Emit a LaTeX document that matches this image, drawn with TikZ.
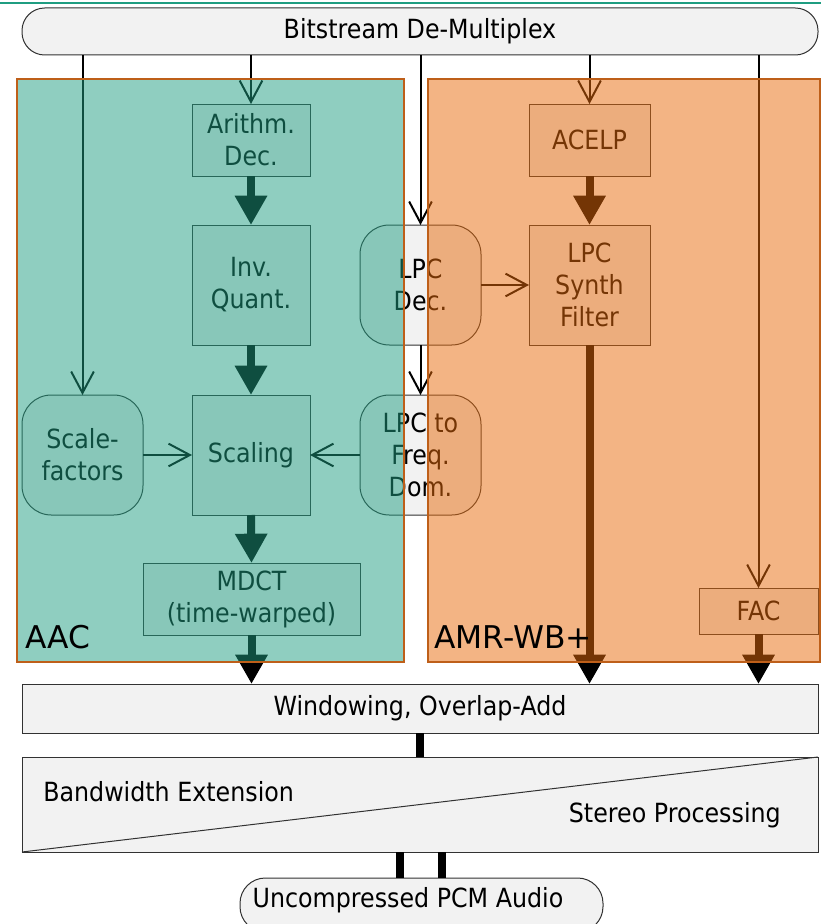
\documentclass[tikz,border=0pt]{standalone}
\usepackage{fontspec}
\setmainfont{DejaVu Sans}[FakeStretch=0.9]
\newfontfamily\regfont{DejaVu Sans}
\usetikzlibrary{arrows.meta,calc}
\definecolor{aacc}{RGB}{31,157,129}
\definecolor{amrc}{RGB}{232,106,10}
\definecolor{framec}{RGB}{190,95,25}
\definecolor{nodefill}{RGB}{242,242,242}
\definecolor{nodeline}{RGB}{50,50,50}
\tikzset{
  blk/.style={draw=nodeline, line width=0.75pt, fill=nodefill, inner sep=0pt, outer sep=0pt,
    align=center, font=\fontsize{19.8}{24}\selectfont},
  rblk/.style={blk, rounded corners=22pt},
  thinarrow/.style={line width=1.5pt, -{Straight Barb[length=16pt,width=17pt]}},
  thickarrow/.style={line width=6pt, -{Triangle[length=22pt,width=23pt]}},
  thickline/.style={line width=6pt},
  txt/.style={inner sep=0pt, font=\fontsize{19.8}{24}\selectfont},
  biglbl/.style={inner sep=0pt, anchor=base west, font=\regfont\fontsize{23.5}{28}\selectfont},
  overlay/.style={opacity=0.5},
  frame/.style={draw=framec, line width=1.2pt}
}
\begin{document}
\begin{tikzpicture}[x=0.75pt,y=-0.75pt]
\useasboundingbox (0,0) rectangle (821,924);
\draw[aacc, line width=1.5pt] (0,3) -- (821,3);

% nodes
\node[rblk, minimum width=597pt, minimum height=35.25pt, rounded corners=17pt] (demux) at (420,31.5) {Bitstream De-Multiplex};
\node[blk, minimum width=88.5pt, minimum height=54pt] (arith) at (251,140) {Arithm.\\Dec.};
\node[blk, minimum width=88.5pt, minimum height=90pt] (invq) at (251,285) {Inv.\\Quant.};
\node[blk, minimum width=88.5pt, minimum height=90pt] (scal) at (251,455) {Scaling};
\node[blk, minimum width=162.75pt, minimum height=54pt] (mdct) at (251.5,599) {MDCT\\(time-warped)};
\node[rblk, minimum width=90.75pt, minimum height=90pt] (sf) at (82.5,455) {Scale-\\factors};
\node[rblk, minimum width=90.75pt, minimum height=90pt] (lpcd) at (420.5,285) {LPC\\Dec.};
\node[rblk, minimum width=90.75pt, minimum height=90pt] (lpcf) at (420.5,455) {LPC to\\Freq.\\Dom.};
\node[blk, minimum width=90.75pt, minimum height=54pt] (acelp) at (589.5,140) {ACELP};
\node[blk, minimum width=90.75pt, minimum height=90pt] (synth) at (589.5,285) {LPC\\Synth\\Filter};
\node[blk, minimum width=89.25pt, minimum height=34.5pt] (fac) at (758.5,611) {FAC};
\node[blk, minimum width=597pt, minimum height=36.75pt] (win) at (420,708.5) {Windowing, Overlap-Add};
\node[blk, minimum width=597pt, minimum height=71.25pt] (bwe) at (420,804.5) {};
\draw[nodeline, line width=0.75pt] (bwe.south west) -- (bwe.north east);
\node[txt, anchor=west] (bwetxt) at (43,792) {Bandwidth Extension};
\node[txt, anchor=east] (sptxt) at (781,815) {Stereo Processing};
\node[rblk, minimum width=272.25pt, minimum height=40.5pt, rounded corners=19pt] (pcm) at (421.5,905) {};
\node[txt] (pcmtxt) at (408,900) {Uncompressed PCM Audio};

% connectors
\draw[thinarrow] (demux.south -| sf.north) -- (sf.north);
\draw[thinarrow] (demux.south -| arith.north) -- (arith.north);
\draw[thinarrow] (demux.south -| lpcd.north) -- (lpcd.north);
\draw[thinarrow] (demux.south -| acelp.north) -- (acelp.north);
\draw[thinarrow] (demux.south -| fac.north) -- (fac.north);
\draw[thinarrow] (lpcd.south) -- (lpcf.north);
\draw[thinarrow] (lpcd.east) -- (synth.west);
\draw[thinarrow] (sf.east) -- (scal.west);
\draw[thinarrow] (lpcf.west) -- (scal.east);
\draw[thickarrow] (arith.south) -- (invq.north);
\draw[thickarrow] (invq.south) -- (scal.north);
\draw[thickarrow] (scal.south) -- (mdct.north);
\draw[thickarrow] (mdct.south) -- (mdct.south |- win.north);
\draw[thickarrow] (acelp.south) -- (synth.north);
\draw[thickarrow] (synth.south) -- (synth.south |- win.north);
\draw[thickarrow] (fac.south) -- (fac.south |- win.north);
\draw[thickline] (win.south) -- (bwe.north);
\draw[thickline] ([xshift=-15pt]bwe.south) -- ([xshift=-15pt]bwe.south |- pcm.north);
\draw[thickline] ([xshift=16.5pt]bwe.south) -- ([xshift=16.5pt]bwe.south |- pcm.north);

% overlays
\fill[aacc, overlay] (17,79) rectangle (404,662);
\draw[frame] (17,79) rectangle (404,662);
\fill[amrc, overlay] (428,79) rectangle (820,662);
\draw[frame] (428,79) rectangle (820,662);
\node[biglbl] (aaclbl) at (25,648) {AAC};
\node[biglbl] (amrlbl) at (434,648) {AMR-WB+};
\end{tikzpicture}
\end{document}
